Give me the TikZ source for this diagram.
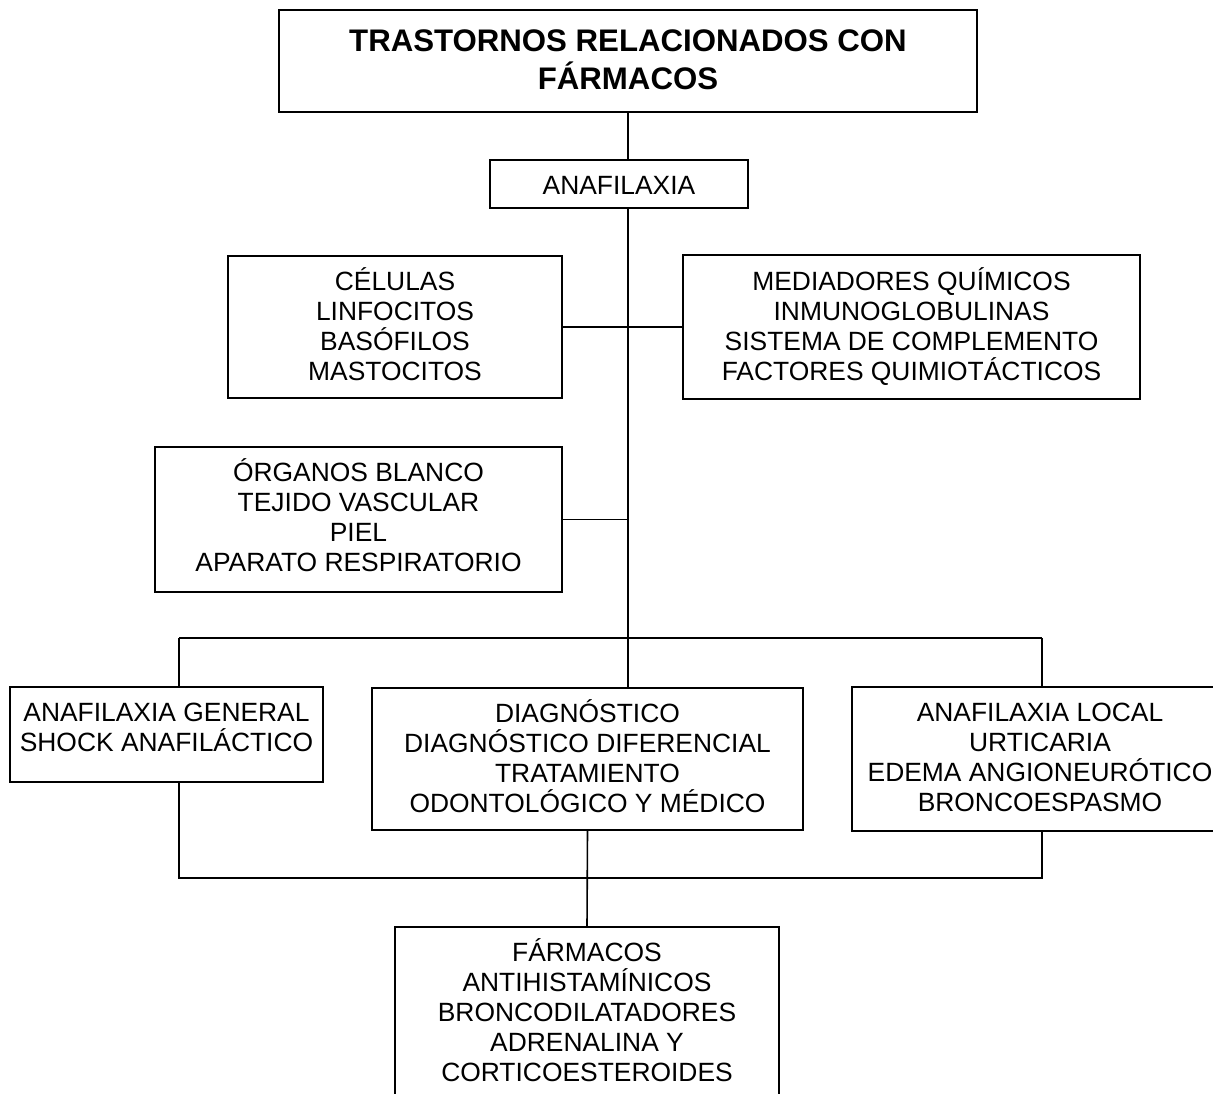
\documentclass[tikz,border=0pt]{standalone}
\usepackage{fontspec}
\newfontfamily\bodyfont{Liberation Sans}
% top-aligned, centred text block of fixed size: width, height, gap above first line, lines
\newcommand{\boxtext}[4]{%
  \parbox[t][#2][t]{#1}{\centering\lineskiplimit=-100pt\relax
    \vskip#3\relax\prevdepth=0pt\relax #4}}
\begin{document}
\begin{tikzpicture}[x=1pt,y=-1pt,
  box/.style={draw, line width=1.6pt, inner sep=0pt, outer sep=0pt,
    anchor=north west, font=\bodyfont\fontsize{26.4pt}{30pt}\selectfont},
  link/.style={line width=1.6pt}]
\useasboundingbox (0,0) rectangle (1213,1093);
\fill[white] (0,0) rectangle (1213,1093);
\clip (0,0) rectangle (1213,1093);

% boxes
\node[box] (title) at (279,10)
  {\bfseries\fontsize{31.2pt}{38pt}\selectfont
   \boxtext{698pt}{102pt}{3pt}{TRASTORNOS RELACIONADOS CON\\FÁRMACOS}};
\node[box] (ana) at (490,160)
  {\boxtext{258pt}{48pt}{4pt}{ANAFILAXIA}};
\node[box] (cel) at (228,256)
  {\boxtext{334pt}{142pt}{4pt}{CÉLULAS\\LINFOCITOS\\BASÓFILOS\\MASTOCITOS}};
\node[box] (med) at (683,255)
  {\boxtext{457pt}{144pt}{5pt}{MEDIADORES QUÍMICOS\\INMUNOGLOBULINAS\\SISTEMA DE COMPLEMENTO\\FACTORES QUIMIOTÁCTICOS}};
\node[box] (org) at (155,447)
  {\boxtext{407pt}{145pt}{4pt}{ÓRGANOS BLANCO\\TEJIDO VASCULAR\\PIEL\\APARATO RESPIRATORIO}};
\node[box] (gen) at (10,687)
  {\boxtext{313pt}{95pt}{4pt}{ANAFILAXIA GENERAL\\SHOCK ANAFILÁCTICO}};
\node[box] (diag) at (372,688)
  {\boxtext{431pt}{142pt}{4pt}{DIAGNÓSTICO\\DIAGNÓSTICO DIFERENCIAL\\TRATAMIENTO\\ODONTOLÓGICO Y MÉDICO}};
\node[box] (loc) at (852,687)
  {\boxtext{376pt}{144pt}{4pt}{ANAFILAXIA LOCAL\\URTICARIA\\EDEMA ANGIONEURÓTICO\\BRONCOESPASMO}};
\node[box] (farm) at (395,927)
  {\boxtext{384pt}{175pt}{4pt}{FÁRMACOS\\ANTIHISTAMÍNICOS\\BRONCODILATADORES\\ADRENALINA Y\\CORTICOESTEROIDES}};

% junction points of the trunk and the two rails
\coordinate (jt) at (628,638);
\coordinate (jl) at (179,638);
\coordinate (jr) at (1042,638);
\coordinate (kl) at (179,878);
\coordinate (kr) at (1042,878);

% connectors
\draw[link] (title.south -| jt) -- (ana.north -| jt);
\draw[link] (ana.south -| jt) -- (jt);
\draw[link] (cel.east) -- (med.west);
\draw[link] (org.east) -- (org.east -| jt);
\draw[link] (jl) -- (jr);
\draw[link] (jl) -- (gen.north -| jl);
\draw[link] (jt) -- (diag.north -| jt);
\draw[link] (jr) -- (loc.north -| jr);
\draw[link] (gen.south -| kl) -- (kl) -- (kr) -- (loc.south -| kr);
\draw[link] (diag.south) -- (farm.north);
\end{tikzpicture}
\end{document}
